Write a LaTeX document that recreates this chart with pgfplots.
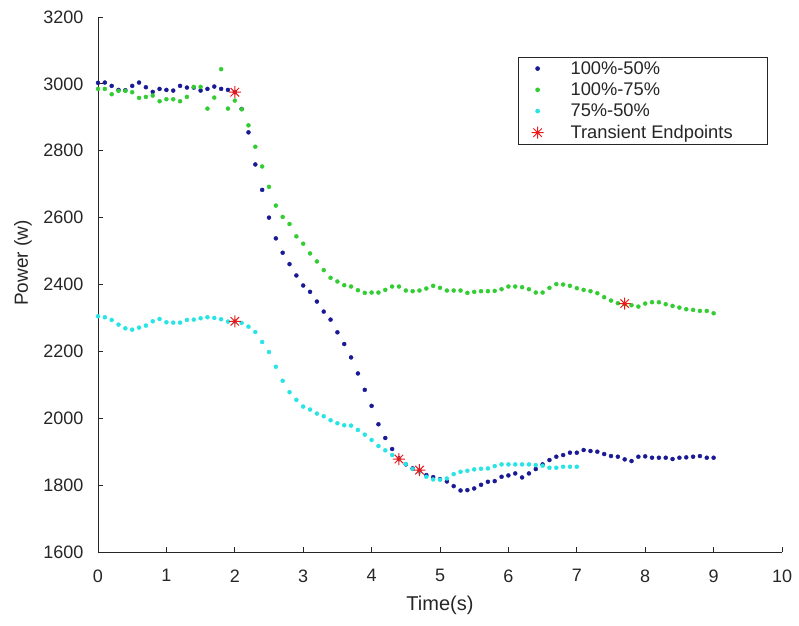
\documentclass[border=0pt]{standalone}
\usepackage{pgfplots}
\pgfplotsset{compat=1.18}
\usepackage{fontspec}
\setmainfont{Liberation Sans}
\definecolor{cblue}{RGB}{25,25,150}
\definecolor{cgreen}{RGB}{50,205,50}
\definecolor{ccyan}{RGB}{40,228,228}
\definecolor{cred}{RGB}{235,25,25}
\definecolor{axgray}{RGB}{38,38,38}
\pgfdeclareplotmark{mstar}{%
  \pgfpathmoveto{\pgfpoint{-\pgfplotmarksize}{0pt}}\pgfpathlineto{\pgfpoint{\pgfplotmarksize}{0pt}}%
  \pgfpathmoveto{\pgfpoint{0pt}{-\pgfplotmarksize}}\pgfpathlineto{\pgfpoint{0pt}{\pgfplotmarksize}}%
  \pgfpathmoveto{\pgfpoint{-0.7071\pgfplotmarksize}{-0.7071\pgfplotmarksize}}\pgfpathlineto{\pgfpoint{0.7071\pgfplotmarksize}{0.7071\pgfplotmarksize}}%
  \pgfpathmoveto{\pgfpoint{-0.7071\pgfplotmarksize}{0.7071\pgfplotmarksize}}\pgfpathlineto{\pgfpoint{0.7071\pgfplotmarksize}{-0.7071\pgfplotmarksize}}%
  \pgfusepathqstroke}
\begin{document}
\begin{tikzpicture}
\path[use as bounding box] (-98pt,-73pt) rectangle (701pt,552pt);
\begin{axis}[
  at={(0pt,0pt)}, anchor=south west, scale only axis,
  width=684pt, height=535pt,
  xmin=0, xmax=10, ymin=1600, ymax=3200,
  axis x line=bottom, axis y line=left,
  axis line style={-, draw=axgray, line width=0.8pt},
  xtick={0,1,...,10}, ytick={1600,1800,...,3200},
  tick align=inside, major tick length=5pt,
  tick style={draw=axgray, line width=0.8pt},
  ticklabel style={font=\fontsize{18}{21}\selectfont, text=axgray},
  xticklabel style={yshift=-14pt},
  yticklabel style={xshift=-11pt},
  /pgf/number format/assume math mode=true,
  /pgf/number format/set thousands separator={},
  xlabel={Time(s)}, ylabel={Power (w)},
  xlabel style={font=\fontsize{20}{23}\selectfont, text=axgray, at={(axis description cs:0.5,-0.099)}, anchor=center},
  ylabel style={font=\fontsize{19}{22}\selectfont, text=axgray, at={(axis description cs:-0.1096,0.54)}, anchor=center},
  legend cell align=left,
  legend image code/.code={\path[draw=none] (0pt,0pt) -- (32pt,0pt); \draw[mark repeat=2,mark phase=2,#1] plot coordinates {(0pt,0pt) (16pt,0pt) (32pt,0pt)};},
  legend style={at={(rel axis cs:0.9795,0.925)}, anchor=north east,
    draw=axgray, line width=0.6pt, fill=white,
    font=\fontsize{18.3}{21}\selectfont, text=axgray,
    inner xsep=3pt, inner ysep=3pt, row sep=5pt,
    nodes={inner ysep=1pt},
    /tikz/every odd column/.append style={column sep=15pt}},
  clip=false,
]
\addplot[only marks, mark=*, mark size=2pt, mark options={draw=cblue, fill=cblue}] table {
x y
0.0 3003
0.1 3004
0.2 2994
0.3 2982
0.4 2981
0.5 2994
0.6 3004
0.7 2990
0.8 2976
0.9 2985
1.0 2982
1.1 2980
1.2 2994
1.3 2989
1.4 2989
1.5 2980
1.6 2985
1.7 2992
1.8 2985
1.9 2982
2.0 2975
2.1 2925
2.2 2855
2.3 2759
2.4 2683
2.5 2600
2.6 2538
2.7 2495
2.8 2461
2.9 2427
3.0 2397
3.1 2378
3.2 2349
3.3 2319
3.4 2295
3.5 2257
3.6 2222
3.7 2182
3.8 2134
3.9 2085
4.0 2037
4.1 1982
4.2 1941
4.3 1908
4.4 1880
4.5 1862
4.6 1850
4.7 1843
4.8 1830
4.9 1824
5.0 1818
5.1 1811
5.2 1797
5.3 1784
5.4 1785
5.5 1790
5.6 1801
5.7 1810
5.8 1812
5.9 1825
6.0 1829
6.1 1835
6.2 1823
6.3 1835
6.4 1848
6.5 1862
6.6 1875
6.7 1885
6.8 1890
6.9 1897
7.0 1897
7.1 1905
7.2 1902
7.3 1900
7.4 1893
7.5 1887
7.6 1885
7.7 1877
7.8 1872
7.9 1885
8.0 1886
8.1 1882
8.2 1882
8.3 1882
8.4 1878
8.5 1882
8.6 1883
8.7 1885
8.8 1887
8.9 1882
9.0 1882
};
\addlegendentry{100\%-50\%}
\addplot[only marks, mark=*, mark size=2pt, mark options={draw=cgreen, fill=cgreen}] table {
x y
0.0 2985
0.1 2985
0.2 2969
0.3 2979
0.4 2979
0.5 2975
0.6 2958
0.7 2961
0.8 2965
0.9 2948
1.0 2954
1.1 2954
1.2 2948
1.3 2961
1.4 2991
1.5 2991
1.6 2926
1.7 2959
1.8 3044
1.9 2926
2.0 2950
2.1 2924
2.2 2876
2.3 2812
2.4 2753
2.5 2692
2.6 2636
2.7 2602
2.8 2581
2.9 2544
3.0 2522
3.1 2493
3.2 2469
3.3 2443
3.4 2420
3.5 2409
3.6 2398
3.7 2394
3.8 2383
3.9 2375
4.0 2376
4.1 2376
4.2 2384
4.3 2394
4.4 2394
4.5 2382
4.6 2380
4.7 2382
4.8 2388
4.9 2396
5.0 2390
5.1 2382
5.2 2382
5.3 2382
5.4 2375
5.5 2378
5.6 2380
5.7 2380
5.8 2381
5.9 2386
6.0 2394
6.1 2394
6.2 2392
6.3 2386
6.4 2376
6.5 2376
6.6 2390
6.7 2401
6.8 2400
6.9 2396
7.0 2389
7.1 2384
7.2 2380
7.3 2374
7.4 2362
7.5 2352
7.6 2344
7.7 2341
7.8 2338
7.9 2334
8.0 2343
8.1 2347
8.2 2347
8.3 2341
8.4 2336
8.5 2331
8.6 2326
8.7 2324
8.8 2321
8.9 2321
9.0 2314
};
\addlegendentry{100\%-75\%}
\addplot[only marks, mark=*, mark size=2pt, mark options={draw=ccyan, fill=ccyan}] table {
x y
0.0 2305
0.1 2302
0.2 2294
0.3 2280
0.4 2269
0.5 2265
0.6 2271
0.7 2277
0.8 2290
0.9 2297
1.0 2287
1.1 2286
1.2 2286
1.3 2294
1.4 2295
1.5 2299
1.6 2302
1.7 2300
1.8 2296
1.9 2289
2.0 2289
2.1 2285
2.2 2274
2.3 2258
2.4 2228
2.5 2198
2.6 2154
2.7 2112
2.8 2078
2.9 2055
3.0 2035
3.1 2026
3.2 2014
3.3 2006
3.4 1994
3.5 1985
3.6 1979
3.7 1978
3.8 1965
3.9 1951
4.0 1935
4.1 1917
4.2 1904
4.3 1890
4.4 1877
4.5 1863
4.6 1848
4.7 1840
4.8 1825
4.9 1817
5.0 1816
5.1 1820
5.2 1833
5.3 1840
5.4 1843
5.5 1847
5.6 1849
5.7 1850
5.8 1857
5.9 1862
6.0 1862
6.1 1862
6.2 1862
6.3 1862
6.4 1860
6.5 1858
6.6 1852
6.7 1852
6.8 1855
6.9 1855
7.0 1855
};
\addlegendentry{75\%-50\%}
\addplot[only marks, mark=mstar, mark size=6pt, mark options={draw=cred, line width=1pt}] table {
x y
2.0 2975
2.0 2290
4.4 1878
4.7 1845
7.7 2343
};
\addlegendentry{Transient Endpoints\rule{30pt}{0pt}}
\end{axis}
\end{tikzpicture}
\end{document}
